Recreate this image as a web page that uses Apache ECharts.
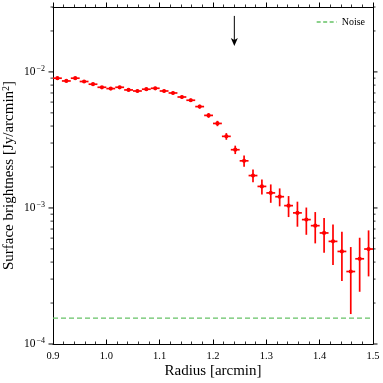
<!DOCTYPE html>
<html>
<head>
<meta charset="utf-8">
<script src="https://cdn.jsdelivr.net/npm/echarts@6/dist/echarts.min.js"></script>
<style>html,body{margin:0;padding:0;background:#fff}#c{width:383px;height:383px}</style>
</head>
<body>
<div id="c"></div>
<script>
// ---- data ----
const radius = [0.9083,0.9250,0.9417,0.9583,0.9750,0.9917,1.0083,1.0250,1.0417,1.0583,1.0750,1.0917,
  1.1083,1.1250,1.1417,1.1583,1.1750,1.1917,1.2083,1.2250,1.2417,1.2583,1.2750,1.2917,
  1.3083,1.3250,1.3417,1.3583,1.3750,1.3917,1.4083,1.4250,1.4417,1.4583,1.4750,1.4917];
const brightness = [0.00899,0.00858,0.00899,0.00850,0.00812,0.00771,0.00754,0.00771,0.00737,0.00724,0.00746,0.00758,
  0.00724,0.00700,0.00654,0.00619,0.00556,0.00479,0.00418,0.00336,0.00268,0.00222,0.00173,0.00144,
  0.00129,0.00121,0.00104,0.00092,0.000821,0.000741,0.000655,0.000568,0.000479,0.000341,0.000423,0.000499];
const brightnessErr = [0.00020,0.00019,0.00020,0.00019,0.00019,0.00018,0.00018,0.00019,0.00018,0.00018,0.00018,0.00019,
  0.00018,0.00018,0.00018,0.00018,0.00018,0.00019,0.00019,0.00019,0.00019,0.00021,0.000185,0.000182,
  0.000199,0.000182,0.000183,0.000192,0.000186,0.000192,0.000187,0.000188,0.000189,0.000175,0.000181,0.000185];
const radiusHalfBin = 0.0083;
const noiseLevel = 0.000155;
const arrowRadius = 1.24;
const arrowFrom = 0.0258;
const arrowTo = 0.0155;
const xTickLabels = ['0.9','1.0','1.1','1.2','1.3','1.4','1.5'];
const yMajorTicks = [1e-4, 1e-3, 1e-2];
const yMinorTicks = [2e-4,3e-4,4e-4,5e-4,6e-4,7e-4,8e-4,9e-4,
  2e-3,3e-3,4e-3,5e-3,6e-3,7e-3,8e-3,9e-3, 2e-2,3e-2];
const xRange = [0.9, 1.5];
const yRange = [1e-4, 0.03];

// ---- chart ----
const FONT = 'Liberation Serif';
const chart = echarts.init(document.getElementById('c'), null, {renderer: 'canvas'});

const errData = radius.map((r, i) => [r, brightness[i], radiusHalfBin, brightnessErr[i]]);
const tickData = yMajorTicks.map(v => [xRange[0], v, 1]).concat(yMinorTicks.map(v => [xRange[0], v, 0]));

const axisLineStyle = {color: '#000', width: 1};

const option = {
  animation: false,
  backgroundColor: '#fff',
  grid: {left: 53, right: 10, top: 7, bottom: 39, containLabel: false, outerBoundsMode: 'none'},
  legend: {
    data: ['Noise'], right: 18, top: 17, itemWidth: 20, itemHeight: 8, padding: 0,
    itemStyle: {opacity: 0},
    lineStyle: {color: '#66c266', width: 1.3, type: [4, 2.5]},
    textStyle: {fontFamily: FONT, fontSize: 10, color: '#000'}, selectedMode: false
  },
  xAxis: [{
    type: 'value', min: xRange[0], max: xRange[1], interval: 0.1, position: 'bottom',
    name: 'Radius [arcmin]', nameLocation: 'middle', nameGap: 20, nameMoveOverlap: false,
    nameTextStyle: {fontFamily: FONT, fontSize: 15, color: '#000'},
    axisLine: {show: true, lineStyle: axisLineStyle},
    axisTick: {show: true, inside: true, length: 4.5, lineStyle: {color: '#000', width: 1}},
    minorTick: {show: true, splitNumber: 5, length: 2.5, lineStyle: {color: '#000', width: 0.8}},
    axisLabel: {margin: 7, fontFamily: FONT, fontSize: 10.5, color: '#000',
      formatter: v => xTickLabels[Math.round((v - xRange[0]) * 10)] || ''},
    splitLine: {show: false}
  }, {
    type: 'value', min: xRange[0], max: xRange[1], interval: 0.1, position: 'top',
    axisLine: {show: true, lineStyle: axisLineStyle},
    axisTick: {show: true, inside: false, length: 4.5, lineStyle: {color: '#000', width: 1}},
    minorTick: {show: true, splitNumber: 5, length: 2.5, lineStyle: {color: '#000', width: 0.8}},
    axisLabel: {show: false}, splitLine: {show: false}
  }],
  yAxis: [{
    type: 'log', logBase: 10, min: yRange[0], max: yRange[1], interval: 1, position: 'left',
    name: 'Surface brightness [Jy/arcmin{s|2}]', nameLocation: 'middle', nameGap: 35, nameMoveOverlap: false,
    nameTextStyle: {fontFamily: FONT, fontSize: 15, color: '#000',
      rich: {s: {fontFamily: FONT, fontSize: 10, color: '#000', padding: [0, 0, 7, 0]}}},
    axisLine: {show: true, lineStyle: axisLineStyle},
    axisTick: {show: false}, minorTick: {show: false},
    axisLabel: {margin: 8, showMaxLabel: false,
      formatter: v => {
        const e = Math.log10(v), r = Math.round(e);
        if (Math.abs(e - r) > 1e-6) return '';
        return '{b|10}{s|' + (r < 0 ? '\u2212' : '') + Math.abs(r) + '}';
      },
      rich: {
        b: {fontFamily: FONT, fontSize: 11.5, color: '#000'},
        s: {fontFamily: FONT, fontSize: 8, color: '#000', padding: [0, 0, 7, 1]}
      }},
    splitLine: {show: false}
  }, {
    type: 'log', logBase: 10, min: yRange[0], max: yRange[1], interval: 1, position: 'right',
    axisLine: {show: true, lineStyle: axisLineStyle},
    axisTick: {show: false}, minorTick: {show: false}, axisLabel: {show: false}, splitLine: {show: false}
  }],
  series: [
    {
      name: 'Noise', type: 'line', silent: true, symbol: 'none',
      data: [[xRange[0], noiseLevel], [xRange[1], noiseLevel]],
      lineStyle: {color: '#66c266', width: 1.3, type: [5, 3]},
      itemStyle: {color: '#66c266'}
    },
    {
      name: 'profile', type: 'custom', silent: true, clip: false,
      encode: {x: 0, y: 1},
      data: errData,
      renderItem: (params, api) => {
        const x = api.value(0), y = api.value(1), xe = api.value(2), ye = api.value(3);
        const c = api.coord([x, y]);
        const l = api.coord([x - xe, y]);
        const r = api.coord([x + xe, y]);
        const t = api.coord([x, y + ye]);
        const b = api.coord([x, y - ye]);
        const st = {stroke: '#ff0000', lineWidth: 1.7};
        return {type: 'group', children: [
          {type: 'line', shape: {x1: l[0], y1: c[1], x2: r[0], y2: c[1]}, style: st},
          {type: 'line', shape: {x1: c[0], y1: t[1], x2: c[0], y2: b[1]}, style: st},
          {type: 'circle', shape: {cx: c[0], cy: c[1], r: 2.1}, style: {fill: '#ff0000'}}
        ]};
      }
    },
    {
      name: 'yticks', type: 'custom', silent: true, clip: false,
      encode: {x: 0, y: 1},
      data: tickData,
      renderItem: (params, api) => {
        const v = api.value(1), major = api.value(2) === 1;
        const L = api.coord([xRange[0], v]);
        const R = api.coord([xRange[1], v]);
        const len = major ? 4.5 : 2.5;
        const st = {stroke: '#000', lineWidth: major ? 1 : 0.8};
        return {type: 'group', children: [
          {type: 'line', shape: {x1: L[0] - len, y1: L[1], x2: L[0], y2: L[1]}, style: st},
          {type: 'line', shape: {x1: R[0], y1: R[1], x2: R[0] + len, y2: R[1]}, style: st}
        ]};
      }
    },
    {
      name: 'arrow', type: 'custom', silent: true, clip: false,
      encode: {x: 0, y: 1},
      data: [[arrowRadius, arrowFrom, arrowTo]],
      renderItem: (params, api) => {
        const p0 = api.coord([api.value(0), api.value(1)]);
        const p1 = api.coord([api.value(0), api.value(2)]);
        const hl = 8, hw = 3.5;
        return {type: 'group', children: [
          {type: 'line', shape: {x1: p0[0], y1: p0[1], x2: p1[0], y2: p1[1] - hl + 2}, style: {stroke: '#000', lineWidth: 1}},
          {type: 'polygon', shape: {points: [[p1[0] - hw, p1[1] - hl], [p1[0], p1[1] - hl + 2], [p1[0] + hw, p1[1] - hl], [p1[0], p1[1]]]}, style: {fill: '#000'}}
        ]};
      }
    }
  ]
};
chart.setOption(option);
</script>
</body>
</html>
